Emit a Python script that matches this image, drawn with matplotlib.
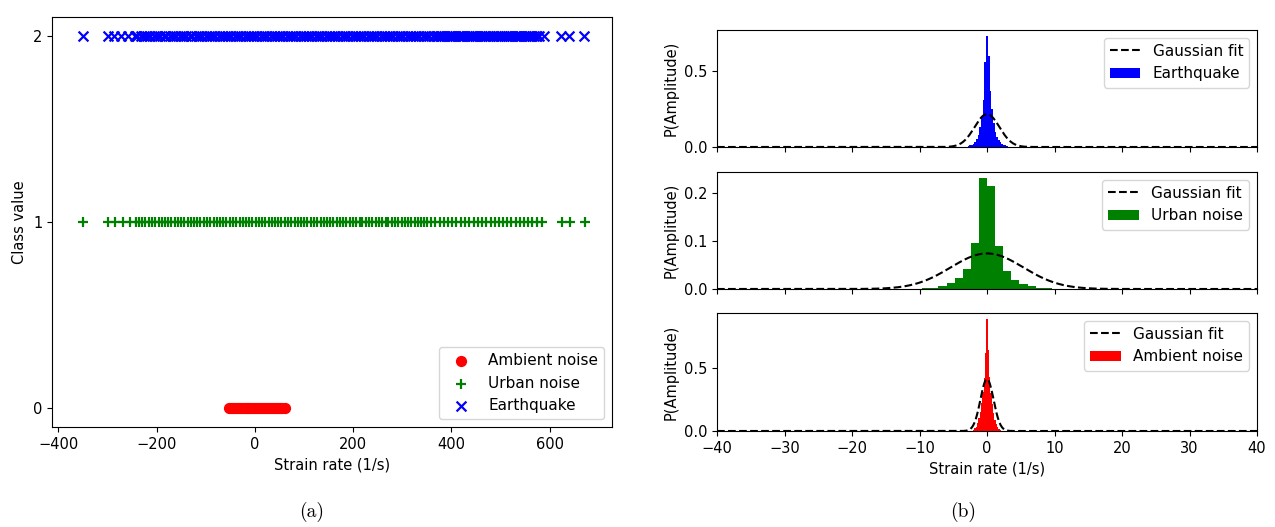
import numpy as np
import matplotlib
matplotlib.use("Agg")
import matplotlib.pyplot as plt

# ---------------- data: panel (a) scatter ----------------
ambient_x = [-53, -49, -45, -41, -37, -33, -29, -25, -21, -17, -13, -9, -5, -1, 3, 7,
             11, 15, 19, 23, 27, 31, 35, 39, 43, 47, 51, 56, 62]
urban_x = [-350, -300, -284, -269, -254, -241,
           -236, -229, -223, -216, -210, -203, -196, -190, -183, -177, -170, -163,
           -157, -150, -144, -137, -130, -124, -117, -111, -104, -97, -91, -84, -78,
           -71, -64, -58, -51, -45, -38, -31, -25, -18, -12, -5, 2, 8, 15, 21, 28,
           35, 41, 48, 54, 61, 68, 74, 81, 87, 94, 101, 107, 114, 120, 127, 134,
           140, 147, 153, 160, 167, 173, 180, 186, 193, 200, 206, 213, 219, 226,
           233, 239, 246, 252, 259, 266, 272, 279, 285, 292, 299, 305, 312, 318,
           325, 332, 338, 345, 351,
           359, 367, 376, 384, 393, 401, 410, 419, 428, 436, 446, 454, 462, 471,
           480, 488, 497, 505, 514, 522, 531, 540, 548, 557, 565, 574,
           585, 626, 641, 672]
quake_x = [-350, -300, -286, -273, -258, -245,
           -239, -232, -226, -219, -213, -206, -199, -193, -186, -180, -173, -166,
           -160, -153, -147, -140, -133, -127, -120, -114, -107, -100, -94, -87,
           -81, -74, -67, -61, -54, -48, -41, -34, -28, -21, -15, -8, -1, 5, 12,
           18, 25, 32, 38, 45, 51, 58, 65, 71, 78, 84, 91, 98, 104, 111, 117, 124,
           131, 137, 144, 150, 157, 164, 170, 177, 183, 190, 197, 203, 210, 216,
           223, 230, 236, 243, 249, 256, 263, 269, 276, 282, 289, 296, 302, 309,
           315, 322, 329, 335, 342, 348, 355,
           363, 368, 372, 376, 380, 386, 391, 395, 399, 404, 408, 413, 417, 421,
           425, 431, 436, 440, 444, 448, 452, 458, 463, 467, 471, 475, 479, 485,
           490, 494, 498, 503, 507, 512, 516, 520, 524, 529, 533, 537, 541, 547,
           552, 556, 560, 565, 569, 574, 578,
           589, 623, 639, 670]
class_ambient, class_urban, class_quake = 0, 1, 2
xlim_a = (-413, 727)

# ---------------- data: panel (b) histograms ----------------
quake_centers = [-2.75, -2.5, -2.25, -2.0, -1.75, -1.5, -1.25, -1.0, -0.75, -0.5, -0.25,
                 0.0, 0.25, 0.5, 0.75, 1.0, 1.25, 1.5, 1.75, 2.0, 2.25, 2.5, 2.75, 3.0]
quake_heights = [0.006, 0.01, 0.015, 0.022, 0.032, 0.05, 0.08, 0.13, 0.20, 0.31, 0.56,
                 0.735, 0.60, 0.37, 0.25, 0.16, 0.10, 0.065, 0.045, 0.03, 0.021, 0.015,
                 0.01, 0.007]
quake_width = 0.25

urban_centers = [-9.0, -7.8, -6.6, -5.4, -4.2, -3.0, -1.8, -0.6, 0.6, 1.8, 3.0, 4.2,
                 5.4, 6.6, 7.8, 9.0]
urban_heights = [0.002, 0.003, 0.006, 0.013, 0.022, 0.041, 0.095, 0.232, 0.214, 0.089,
                 0.038, 0.019, 0.010, 0.006, 0.003, 0.002]
urban_width = 1.2

ambient_centers = [-2.0, -1.8, -1.6, -1.4, -1.2, -1.0, -0.8, -0.6, -0.4, -0.2, 0.0,
                   0.2, 0.4, 0.6, 0.8, 1.0, 1.2, 1.4, 1.6, 1.8, 2.0]
ambient_heights = [0.01, 0.02, 0.035, 0.06, 0.10, 0.15, 0.22, 0.31, 0.42, 0.62, 0.89,
                   0.64, 0.43, 0.30, 0.21, 0.14, 0.09, 0.055, 0.03, 0.015, 0.008]
ambient_width = 0.2

# Gaussian fit parameters (mean, std)
quake_fit = (0.0, 1.84)
urban_fit = (0.0, 5.39)
ambient_fit = (0.0, 0.97)

xlim_b = (-40, 40)

# ---------------- figure ----------------
W, H = 1275, 527
fig = plt.figure(figsize=(W / 100, H / 100), dpi=100)

def box(l, t, r, b):
    return [l / W, (H - b) / H, (r - l) / W, (b - t) / H]

axa = fig.add_axes(box(52, 17, 612, 427))
axa.scatter(ambient_x, [class_ambient] * len(ambient_x), marker='o', color='red',
            s=50, label='Ambient noise', zorder=3)
axa.scatter(urban_x, [class_urban] * len(urban_x), marker='+', color='green',
            s=55, linewidths=1.6, label='Urban noise')
axa.scatter(quake_x, [class_quake] * len(quake_x), marker='x', color='blue',
            s=50, linewidths=1.6, label='Earthquake')
axa.set_xlim(*xlim_a)
axa.set_yticks([0, 1, 2])
axa.set_xticks([-400, -200, 0, 200, 400, 600])
axa.set_xlabel('Strain rate (1/s)', fontsize=10.5)
axa.set_ylabel('Class value', fontsize=10.5)
axa.tick_params(labelsize=10.5)
axa.legend(loc='lower right', fontsize=11)

def gauss(x, mu, sd):
    return np.exp(-0.5 * ((x - mu) / sd) ** 2) / (sd * np.sqrt(2 * np.pi))

panels = [
    (box(717, 30, 1257, 147), quake_centers, quake_heights, quake_width, 'blue',
     'Earthquake', quake_fit, [0.0, 0.5]),
    (box(717, 172, 1257, 289), urban_centers, urban_heights, urban_width, 'green',
     'Urban noise', urban_fit, [0.0, 0.1, 0.2]),
    (box(717, 313, 1257, 431), ambient_centers, ambient_heights, ambient_width, 'red',
     'Ambient noise', ambient_fit, [0.0, 0.5]),
]
xs = np.linspace(xlim_b[0], xlim_b[1], 801)
for i, (rect, cen, hts, w, col, lab, fit, yt) in enumerate(panels):
    ax = fig.add_axes(rect)
    ax.bar(cen, hts, width=w, color=col, label=lab, linewidth=0)
    ax.plot(xs, gauss(xs, *fit), 'k--', lw=1.5, label='Gaussian fit')
    ax.set_xlim(*xlim_b)
    ax.set_xticks(range(-40, 41, 10))
    ax.set_yticks(yt)
    ax.set_ylabel('P(Amplitude)', fontsize=10.5)
    ax.tick_params(labelsize=10.5)
    if i < 2:
        ax.tick_params(labelbottom=False)
    else:
        ax.set_xlabel('Strain rate (1/s)', fontsize=10.5)
    ax.legend(loc='upper right', fontsize=11)

fig.text(312 / W, 1 - 512 / H, '(a)', family='cmr10', fontsize=14, ha='center', va='center')
fig.text(963 / W, 1 - 512 / H, '(b)', family='cmr10', fontsize=14, ha='center', va='center')

fig.savefig('out.png', dpi=100)
